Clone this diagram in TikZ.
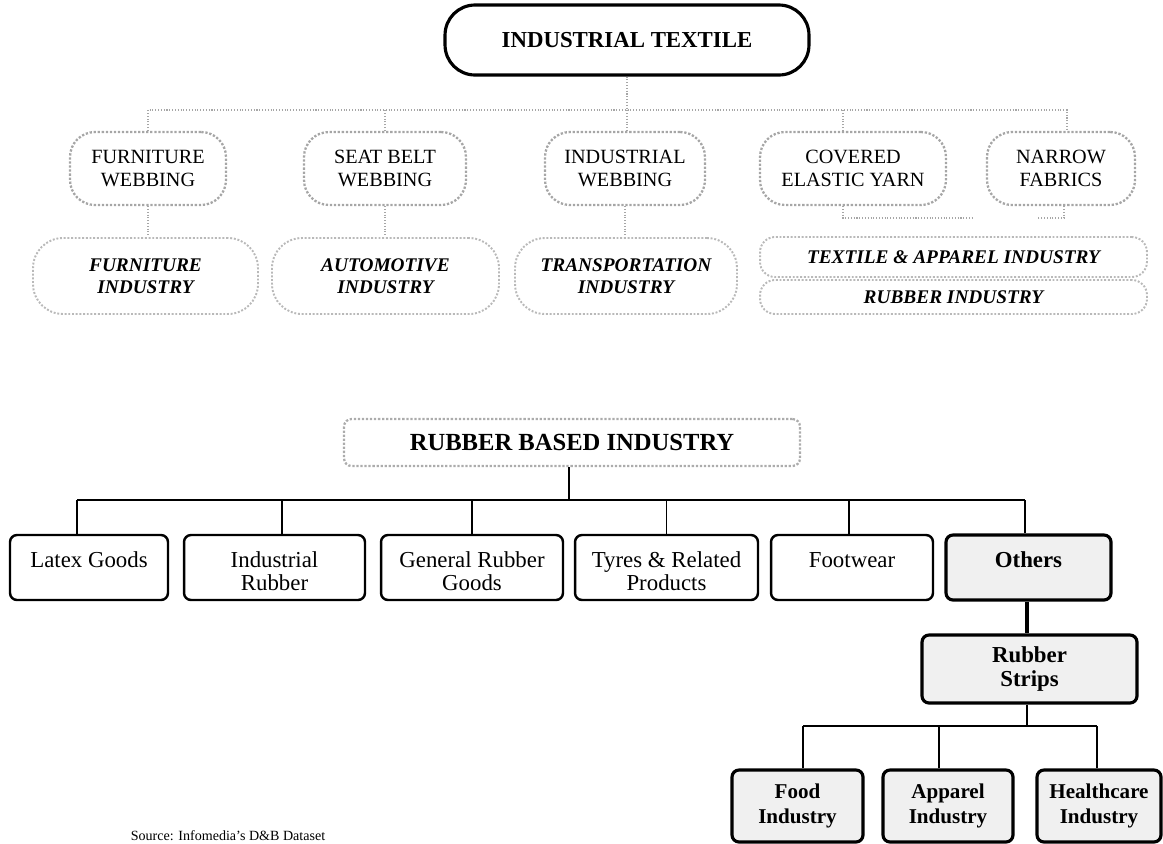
\documentclass[tikz,border=0pt]{standalone}
\usepackage{fontspec}
\setmainfont{Liberation Serif}
\newcommand\tstr{\rule{0pt}{17pt}}
\begin{document}
\begin{tikzpicture}[x=0.02cm,y=-0.02cm,
  tt/.style={draw, line width=1.8pt, rounded corners=0.6cm, font=\fontsize{13}{15}\selectfont\bfseries, minimum width=7.28cm, minimum height=1.4cm},
  ov/.style={draw=gray!70, densely dotted, line width=1.3pt, rounded corners=0.5cm, align=center, font=\fontsize{11.5}{13}\selectfont, minimum height=1.46cm, inner sep=0pt},
  iv/.style={draw=gray!55, densely dotted, line width=1.1pt, rounded corners=0.6cm, align=center, font=\fontsize{11}{12.5}\selectfont\bfseries\itshape, minimum height=1.52cm, inner sep=0pt},
  lk/.style={gray!70, densely dotted, line width=0.6pt},
  rbx/.style={draw=gray!65, densely dotted, line width=1.3pt, rounded corners=0.15cm, font=\fontsize{14}{16}\selectfont\bfseries, minimum width=9.12cm, minimum height=0.94cm},
  gb/.style={draw, line width=1.4pt, rounded corners=0.14cm, align=center, font=\fontsize{13}{13.2}\selectfont, minimum height=1.3cm, inner sep=0pt},
  sh/.style={gb, fill=gray!12, line width=1.8pt, font=\fontsize{13}{13.2}\selectfont\bfseries},
  cb/.style={sh, font=\fontsize{12}{14}\selectfont\bfseries, minimum height=1.44cm},
  ln/.style={line width=0.8pt},
  thk/.style={line width=1.3pt}
]
\useasboundingbox (0,0) rectangle (1163,843);

% ---------- Industrial textile ----------
\node[tt] (t) at (627,40) {INDUSTRIAL TEXTILE};

\node[ov, minimum width=3.12cm] (fw) at (148,168.5) {FURNITURE\\WEBBING};
\node[ov, minimum width=3.24cm] (sb) at (385,168.5) {SEAT BELT\\WEBBING};
\node[ov, minimum width=3.2cm]  (iw) at (625,168.5) {INDUSTRIAL\\WEBBING};
\node[ov, minimum width=3.72cm] (ce) at (853,168.5) {COVERED\\ELASTIC YARN};
\node[ov, minimum width=2.96cm] (nf) at (1061,168.5) {NARROW\\FABRICS};

\node[iv, minimum width=4.5cm]  (fi) at (145.5,276) {FURNITURE\\INDUSTRY};
\node[iv, minimum width=4.54cm] (ai) at (385.5,276) {AUTOMOTIVE\\INDUSTRY};
\node[iv, minimum width=4.44cm] (ti) at (626,276) {TRANSPORTATION\\INDUSTRY};
\node[iv, minimum width=7.74cm, minimum height=0.8cm, rounded corners=0.3cm] (ta) at (953.5,257) {TEXTILE \& APPAREL INDUSTRY};
\node[iv, minimum width=7.74cm, minimum height=0.68cm, rounded corners=0.3cm] (ri) at (953.5,297) {RUBBER INDUSTRY};

\coordinate (hb) at (0,110);
\coordinate (lb) at (0,218);
\draw[lk] (t.south) -- (t.south |- iw.north);
\draw[lk] (fw.north) -- (fw.north |- hb) -- ([xshift=0.12cm]nf.north |- hb) -- ([xshift=0.12cm]nf.north);
\draw[lk] (sb.north) -- (sb.north |- hb);
\draw[lk] ([xshift=-0.2cm]ce.north) -- ([xshift=-0.2cm]ce.north |- hb);

\draw[lk] (fw.south) -- (fw.south |- fi.north);
\draw[lk] (sb.south) -- (sb.south |- ai.north);
\draw[lk] (iw.south) -- (iw.south |- ti.north);
\coordinate (ce1) at (973,218);
\coordinate (nf1) at (1037,218);
\draw[lk] ([xshift=-0.2cm]ce.south) -- ([xshift=-0.2cm]ce.south |- lb) -- (ce1);
\draw[lk] ([xshift=0.06cm]nf.south) -- ([xshift=0.06cm]nf.south |- lb) -- (nf1);

% ---------- Rubber based industry ----------
\node[rbx] (rb) at (572,442.5) {RUBBER BASED INDUSTRY};

\node[gb, minimum width=3.16cm] (lg) at (89,567.5)   {\tstr Latex Goods\\\strut};
\node[gb, minimum width=3.62cm] (ir) at (274.5,567.5) {\tstr Industrial\\\strut Rubber};
\node[gb, minimum width=3.64cm] (gr) at (472,567.5)  {\tstr General Rubber\\\strut Goods};
\node[gb, minimum width=3.66cm] (ty) at (666.5,567.5) {\tstr Tyres \& Related\\\strut Products};
\node[gb, minimum width=3.24cm] (fo) at (852,567.5)  {\tstr Footwear\\\strut};
\node[sh, minimum width=3.3cm]  (ot) at (1028.5,567.5) {\tstr Others\\\strut};

\coordinate (bus) at (0,500);
\draw[thk] ([xshift=-0.06cm]rb.south) -- ([xshift=-0.06cm]rb.south |- bus);
\draw[line width=1.6pt] ([xshift=-0.24cm]lg.north |- bus) -- ([xshift=-0.07cm]ot.north |- bus);
\draw[ln] ([xshift=-0.24cm]lg.north) -- ([xshift=-0.24cm]lg.north |- bus);
\draw[ln] ([xshift=0.15cm]ir.north) -- ([xshift=0.15cm]ir.north |- bus);
\draw[ln] (gr.north) -- (gr.north |- bus);
\draw[ln] (ty.north) -- (ty.north |- bus);
\draw[ln] ([xshift=-0.06cm]fo.north) -- ([xshift=-0.06cm]fo.north |- bus);
\draw[ln] ([xshift=-0.07cm]ot.north) -- ([xshift=-0.07cm]ot.north |- bus);

\node[sh, minimum width=4.3cm, minimum height=1.36cm] (st) at (1029.5,669) {Rubber\\Strips};
\draw[line width=2pt] ([xshift=-0.03cm]ot.south) -- ([xshift=-0.03cm]ot.south |- st.north);

\node[cb, minimum width=2.62cm] (fd) at (797.5,806) {Food\\Industry};
\node[cb, minimum width=2.6cm]  (ap) at (948,806) {Apparel\\Industry};
\node[cb, minimum width=2.48cm] (hc) at (1099,806) {Healthcare\\Industry};

\coordinate (bus2) at (0,726);
\draw[ln] ([xshift=-0.05cm]st.south) -- ([xshift=-0.05cm]st.south |- bus2);
\draw[ln] ([xshift=0.11cm]fd.north |- bus2) -- ([xshift=-0.04cm]hc.north |- bus2);
\draw[ln] ([xshift=0.11cm]fd.north) -- ([xshift=0.11cm]fd.north |- bus2);
\draw[ln] ([xshift=-0.18cm]ap.north) -- ([xshift=-0.18cm]ap.north |- bus2);
\draw[ln] ([xshift=-0.04cm]hc.north) -- ([xshift=-0.04cm]hc.north |- bus2);

\node[font=\fontsize{8}{9}\selectfont] (src) at (228,836) {Source: Infomedia's D\&B Dataset};
\end{tikzpicture}
\end{document}
